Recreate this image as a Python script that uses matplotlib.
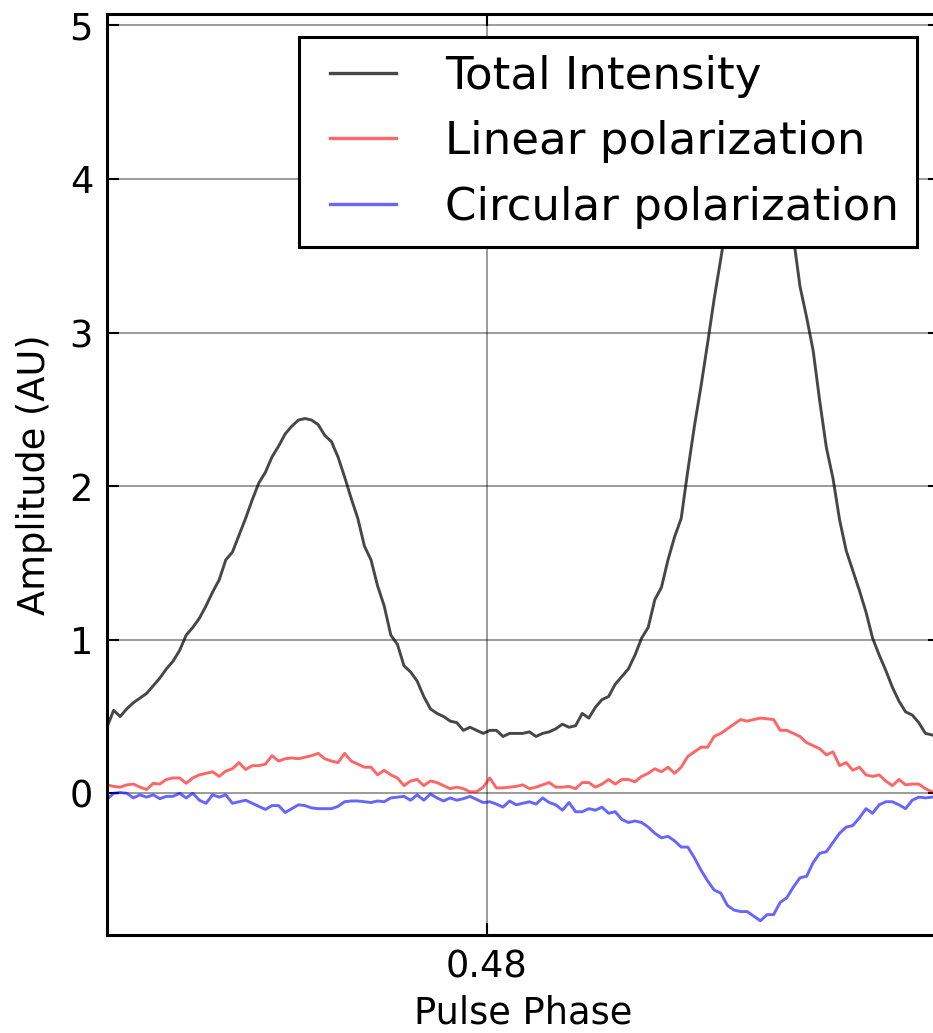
import numpy as np
import matplotlib
matplotlib.use('Agg')
from matplotlib import pyplot as plt
from matplotlib.legend_handler import HandlerLine2D

# pulse profile, bins of 0.0002 in phase
phase_start = 0.4685
phase_step = 0.0002

total_I = [0.43, 0.54, 0.50, 0.55, 0.59, 0.62, 0.65, 0.70, 0.75, 0.81,
           0.86, 0.93, 1.03, 1.08, 1.14, 1.22, 1.31, 1.39, 1.52, 1.57,
           1.68, 1.79, 1.91, 2.02, 2.09, 2.19, 2.26, 2.34, 2.39, 2.43,
           2.44, 2.43, 2.40, 2.33, 2.29, 2.19, 2.06, 1.92, 1.79, 1.61,
           1.52, 1.35, 1.22, 1.03, 0.97, 0.83, 0.79, 0.73, 0.63, 0.55,
           0.52, 0.50, 0.47, 0.46, 0.41, 0.43, 0.41, 0.39, 0.41, 0.41,
           0.37, 0.39, 0.39, 0.39, 0.40, 0.37, 0.39, 0.40, 0.42, 0.45,
           0.43, 0.44, 0.52, 0.49, 0.56, 0.61, 0.63, 0.71, 0.76, 0.81,
           0.90, 1.01, 1.08, 1.26, 1.34, 1.52, 1.67, 1.79, 2.10, 2.39,
           2.65, 2.93, 3.22, 3.48, 3.75, 4.05, 4.32, 4.55, 4.68, 4.72,
           4.62, 4.40, 4.15, 3.88, 3.62, 3.30, 3.10, 2.88, 2.55, 2.25,
           2.05, 1.78, 1.58, 1.45, 1.32, 1.18, 1.01, 0.90, 0.80, 0.69,
           0.60, 0.53, 0.51, 0.46, 0.39, 0.38, 0.37, 0.37]

linear_L = [0.055, 0.045, 0.04, 0.055, 0.06, 0.04, 0.025, 0.065, 0.06, 0.09,
            0.10, 0.10, 0.065, 0.10, 0.12, 0.13, 0.14, 0.11, 0.145, 0.16,
            0.20, 0.155, 0.18, 0.18, 0.19, 0.245, 0.21, 0.225, 0.23, 0.225,
            0.235, 0.245, 0.26, 0.225, 0.21, 0.20, 0.26, 0.21, 0.19, 0.17,
            0.17, 0.12, 0.15, 0.12, 0.10, 0.05, 0.08, 0.09, 0.05, 0.08,
            0.07, 0.05, 0.03, 0.04, 0.03, 0.01, 0.01, 0.04, 0.10, 0.035,
            0.035, 0.04, 0.045, 0.055, 0.03, 0.04, 0.055, 0.07, 0.04, 0.04,
            0.045, 0.03, 0.07, 0.07, 0.04, 0.06, 0.09, 0.06, 0.09, 0.09,
            0.075, 0.11, 0.13, 0.16, 0.14, 0.17, 0.13, 0.17, 0.24, 0.27,
            0.30, 0.30, 0.37, 0.39, 0.42, 0.45, 0.48, 0.47, 0.48, 0.49,
            0.485, 0.48, 0.41, 0.41, 0.39, 0.37, 0.33, 0.31, 0.29, 0.25,
            0.27, 0.18, 0.20, 0.15, 0.17, 0.12, 0.11, 0.12, 0.08, 0.05,
            0.09, 0.055, 0.06, 0.06, 0.03, 0.01, 0.01, 0.01]

circular_V = [-0.04, 0.0, 0.005, 0.0, -0.03, -0.01, -0.025, -0.01, -0.035, -0.02,
              -0.02, 0.0, -0.03, 0.0, -0.045, -0.065, -0.01, -0.025, -0.01, -0.065,
              -0.055, -0.045, -0.065, -0.085, -0.105, -0.08, -0.08, -0.125, -0.10, -0.075,
              -0.08, -0.095, -0.10, -0.10, -0.10, -0.085, -0.055, -0.05, -0.05, -0.055,
              -0.06, -0.05, -0.055, -0.03, -0.025, -0.02, -0.045, -0.01, -0.045, -0.005,
              -0.03, -0.05, -0.03, -0.045, -0.035, -0.02, -0.04, -0.06, -0.055, -0.07,
              -0.09, -0.05, -0.075, -0.065, -0.055, -0.07, -0.03, -0.06, -0.075, -0.11,
              -0.06, -0.12, -0.12, -0.10, -0.11, -0.09, -0.13, -0.12, -0.17, -0.19,
              -0.18, -0.19, -0.22, -0.26, -0.29, -0.28, -0.31, -0.35, -0.35, -0.42,
              -0.50, -0.57, -0.63, -0.65, -0.73, -0.76, -0.77, -0.77, -0.80, -0.83,
              -0.79, -0.79, -0.71, -0.68, -0.61, -0.55, -0.54, -0.45, -0.39, -0.38,
              -0.32, -0.26, -0.22, -0.21, -0.16, -0.10, -0.13, -0.075, -0.055, -0.055,
              -0.075, -0.10, -0.045, -0.025, -0.03, -0.025, -0.025, -0.025]

labels = ['Total Intensity', 'Linear polarization', 'Circular polarization']
colors = ['k', 'r', 'b']
xticks = [0.48]

phase = phase_start + phase_step * np.arange(len(total_I))

plt.rcParams['font.family'] = 'DejaVu Sans'
plt.rcParams['axes.linewidth'] = 2.2

fig = plt.figure(figsize=(9.33, 10.33), dpi=100)
ax = fig.add_axes([107/933, 98/1033, 833/933, 921/1033])

lines = []
for y, lab, c in zip([total_I, linear_L, circular_V], labels, colors):
    l, = ax.plot(phase, y, color=c, alpha=0.72 if c == 'k' else 0.6, lw=2.1, label=lab)
    lines.append(l)

ax.set_xlim(phase_start, phase_start + 833/6.6*phase_step)
ax.set_ylim(-0.9225, 5.0736)
ax.set_xticks(xticks)
ax.set_xticklabels(['%.2f' % t for t in xticks])
ax.set_yticks([0, 1, 2, 3, 4, 5])

ax.grid(True, color='k', alpha=0.5, lw=1.1, ls='-')
ax.set_axisbelow(True)
ax.tick_params(direction='in', length=8.5, width=1.5, labelsize=26.5,
               top=True, right=True, pad=10)

ax.set_xlabel('Pulse Phase', fontsize=26.5, labelpad=6)
ax.set_ylabel('Amplitude (AU)', fontsize=26.5, labelpad=12)

hmap = {l: HandlerLine2D(xpad=0.29) for l in lines}
leg = ax.legend(loc='upper right', fontsize=32.5, fancybox=False, framealpha=1,
                edgecolor='k', handlelength=1.74, handletextpad=1.1,
                borderpad=0.4, labelspacing=0.5, borderaxespad=0.5,
                handler_map=hmap)
leg.get_frame().set_linewidth(2.2)
for h in leg.get_lines():
    h.set_linewidth(2.4)

fig.savefig('out.png', dpi=100)
